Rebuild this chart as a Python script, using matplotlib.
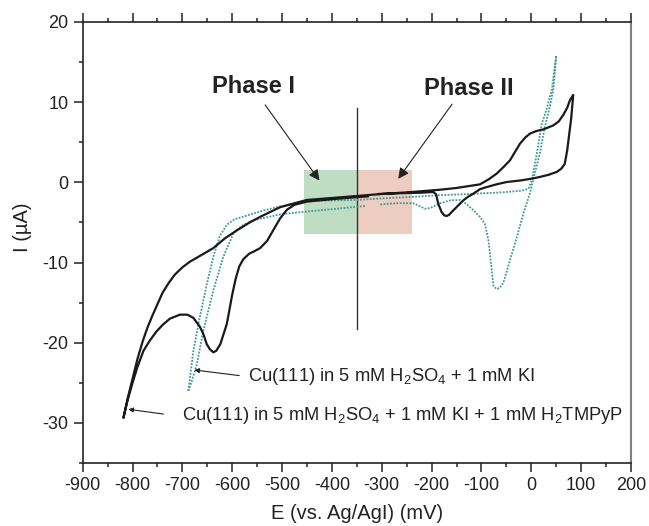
import numpy as np
import matplotlib
matplotlib.use("Agg")
import matplotlib.pyplot as plt
from matplotlib.ticker import MultipleLocator

plt.rcParams['font.family'] = ['Liberation Sans', 'DejaVu Sans']
plt.rcParams['mathtext.fontset'] = 'custom'
plt.rcParams['mathtext.rm'] = 'Liberation Sans'
plt.rcParams['mathtext.it'] = 'Liberation Sans:italic'
plt.rcParams['mathtext.bf'] = 'Liberation Sans:bold'
plt.rcParams['axes.unicode_minus'] = False

nan = np.nan

# Black CV: Cu(111) in 5 mM H2SO4 + 1 mM KI + 1 mM H2TMPyP (closed loop)
black_E = [-818, -810, -800, -790, -780, -770, -760, -750, -740, -728, -715, -700, -685, -660, -638,
           -615, -591, -565, -544, -504, -451, -400, -350, -300, -250, -183, -150, -103, -85, -69.5,
           -56, -42.8, -22.7, -12, -2.7, 10, 24, 44, 55, 64, 72, 77.5, 84,
           80, 76, 72, 67, 60, 51, 35, 17, 4, -20, -49.5, -70, -89.6, -103, -116, -127, -136.5,
           -147, -156.6, -165, -170, -175, -180, -186.7, -191, -196.7, -223, -260, -306, nan,
           -328, -350, -400, -450, -475, -490, -504, -518, -530, -544, -556, -566, -578, -586,
           -593, -600, -611, -624, -632, -638, -645, -651, -658, -665, -678, -690, -705, -725,
           -740, -752, -765, -778, -790, -800, -810, -818]
black_I = [-29.3, -27.0, -24.5, -22.0, -19.9, -18.1, -16.6, -15.2, -13.8, -12.6, -11.5, -10.6, -9.9, -9.0, -8.2,
           -7.0, -6.0, -5.0, -4.3, -3.1, -2.2, -1.95, -1.7, -1.45, -1.25, -0.92, -0.7, -0.25, 0.4, 1.09,
           1.9, 2.75, 4.83, 5.6, 6.08, 6.4, 6.6, 7.1, 7.6, 8.4, 9.3, 10.25, 10.9,
           8.0, 6.0, 4.0, 2.3, 1.7, 1.3, 0.95, 0.67, 0.5, 0.25, 0.04, -0.25, -0.59, -0.85, -1.4, -1.8, -2.25,
           -2.9, -3.5, -4.05, -4.2, -4.1, -3.7, -2.67, -1.5, -1.2, -1.3, -1.35, -1.45, nan,
           -1.75, -1.85, -2.1, -2.4, -2.8, -3.4, -4.5, -6.0, -7.3, -8.2, -8.6, -8.9, -9.6, -10.5,
           -12.0, -14.0, -17.7, -20.2, -21.0, -21.2, -20.8, -20.2, -18.9, -18.0, -16.9, -16.5, -16.5, -17.0,
           -17.8, -18.6, -19.7, -21.0, -23.0, -25.0, -27.2, -29.3]

# Teal dotted CV: Cu(111) in 5 mM H2SO4 + 1 mM KI (closed loop)
teal_E = [-688, -678, -665, -651, -638, -625, -611, -595, -571, -540, -504, -444, -400, -350, -300,
          -250, -183, -123, -60, -22, -12, -5, 1, 11, 21, 31, 41, 50,
          44, 37, 27, 17, 7, -3, -16, -29, -43, -56, -64, -70, -76, -80, -86, -93, -103, -116,
          -130, -143, -163, -183, -203, -213, -223, -237, -270, -303, nan,
          -334, -400, -444, -500, -538, -560, -580, -598, -618, -638, -658, -671, -681, -688]
teal_I = [-26.0, -21.0, -16.8, -12.7, -9.3, -6.7, -5.3, -4.6, -4.15, -3.55, -3.0, -2.3, -2.25, -2.2, -2.0,
          -1.85, -1.6, -1.45, -1.25, -1.05, -0.95, -0.7, 0.25, 3.6, 7.3, 9.2, 11.5, 15.8,
          11.5, 9.4, 6.9, 3.6, 1.1, -1.4, -3.9, -6.8, -9.75, -12.5, -13.2, -13.3, -12.9, -10.6, -7.25, -5.2, -4.3, -3.5,
          -2.7, -2.2, -2.25, -2.6, -3.2, -3.3, -3.0, -2.6, -2.6, -2.75, nan,
          -2.95, -3.35, -3.6, -3.95, -4.45, -4.8, -5.4, -6.4, -9.3, -13.5, -18.5, -22.7, -24.75, -26.0]

x_ticks = [-900, -800, -700, -600, -500, -400, -300, -200, -100, 0, 100, 200]
y_ticks = [-30, -20, -10, 0, 10, 20]

fig = plt.figure(figsize=(6.49, 5.26), dpi=100)
ax = fig.add_axes([0.1274, 0.1198, 0.8449, 0.8384])

# phase boxes
ax.axvspan(-457, -350, ymin=(-6.5 + 35) / 55, ymax=(1.5 + 35) / 55, color='#bfddc3', lw=0, zorder=0.5)
ax.axvspan(-350, -240, ymin=(-6.5 + 35) / 55, ymax=(1.5 + 35) / 55, color='#eecdc1', lw=0, zorder=0.5)
ax.plot([-350, -350], [-18.3, 9.3], color='#333333', lw=1.0, zorder=1)

ax.plot(np.array(teal_E, float), np.array(teal_I, float), color='#3f9a97', lw=1.3,
        linestyle=(0, (1, 0.8)), zorder=2)
ax.plot(np.array(black_E, float), np.array(black_I, float), color='#1a1a1a', lw=1.6, zorder=3)

ax.set_xlim(-900, 200)
ax.set_ylim(-35, 20)
ax.set_xticks(x_ticks)
ax.set_yticks(y_ticks)
ax.xaxis.set_minor_locator(MultipleLocator(50))
ax.yaxis.set_minor_locator(MultipleLocator(5))
ax.tick_params(which='both', direction='out', top=True, right=False, labeltop=False,
               colors='#222222', labelsize=13, width=1.1)
ax.tick_params(which='major', length=6.2, pad=4)
ax.tick_params(which='minor', length=3.2)
for s in ['left', 'bottom', 'top']:
    ax.spines[s].set_linewidth(1.2)
    ax.spines[s].set_color('#222222')
ax.spines['right'].set_color('#808080')
ax.spines['right'].set_linewidth(1.5)

ax.set_xlabel('E (vs. Ag/AgI) (mV)', fontsize=14.5, color='#222222')
ax.set_ylabel('I (µA)', fontsize=14.5, color='#222222')
ax.xaxis.set_label_coords(0.5, -0.093)
ax.yaxis.set_label_coords(-0.093, 0.534)

# Phase labels and arrows
ax.text(-558, 11.9, 'Phase I', fontsize=17, fontweight='bold', color='#222222', ha='center', va='center')
ax.text(-126, 11.75, 'Phase II', fontsize=17, fontweight='bold', color='#222222', ha='center', va='center')
ax.annotate('', xy=(-425, 0.22), xytext=(-534, 9.66),
            arrowprops=dict(arrowstyle='-|>', color='#222222', lw=0.8, mutation_scale=16,
                            shrinkA=0, shrinkB=0))
ax.annotate('', xy=(-267, 0.44), xytext=(-159, 9.75),
            arrowprops=dict(arrowstyle='-|>', color='#222222', lw=0.8, mutation_scale=16,
                            shrinkA=0, shrinkB=0))

# Curve labels
ax.annotate('', xy=(-676, -23.4), xytext=(-586, -24.1),
            arrowprops=dict(arrowstyle='-|>', color='#222222', lw=0.8, mutation_scale=7,
                            shrinkA=0, shrinkB=0))
ax.text(-568, -24.25, r'Cu(111) in 5 mM H$_\mathregular{2}$SO$_\mathregular{4}$ + 1 mM KI',
        fontsize=13.2, color='#222222', ha='left', va='center')
ax.annotate('', xy=(-808.5, -28.3), xytext=(-738, -28.9),
            arrowprops=dict(arrowstyle='-|>', color='#222222', lw=0.8, mutation_scale=7,
                            shrinkA=0, shrinkB=0))
ax.text(-701, -29.1, r'Cu(111) in 5 mM H$_\mathregular{2}$SO$_\mathregular{4}$ + 1 mM KI + 1 mM H$_\mathregular{2}$TMPyP',
        fontsize=13.2, color='#222222', ha='left', va='center')

fig.savefig('out.png', dpi=100)
